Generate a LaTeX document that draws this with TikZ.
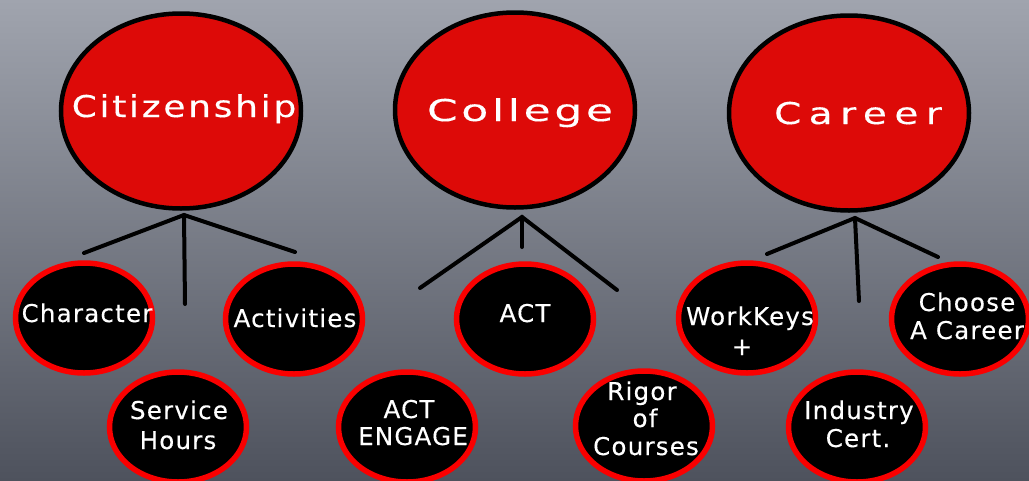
\documentclass[tikz,border=0pt]{standalone}
\usepackage{fontspec}
\setmainfont{DejaVu Sans}
\newfontfamily\citfont[LetterSpace=9,FakeStretch=1.2,FakeBold=0.3]{DejaVu Sans}
\newfontfamily\colfont[LetterSpace=12,FakeStretch=1.47,FakeBold=0.3]{DejaVu Sans}
\newfontfamily\carfont[LetterSpace=25,FakeStretch=1.3,FakeBold=0.3]{DejaVu Sans}
\newfontfamily\smfont[LetterSpace=5,FakeBold=0.3]{DejaVu Sans}
\usetikzlibrary{shapes.geometric}
\definecolor{bigred}{RGB}{221,10,8}
\definecolor{ringred}{RGB}{250,0,0}
\definecolor{bgtop}{RGB}{160,164,174}
\definecolor{bgbot}{RGB}{78,82,93}
\begin{document}
\begin{tikzpicture}[x=1pt,y=-1pt,
  bigcirc/.style={ellipse, draw=black, line width=4.5pt, fill=bigred, inner sep=0pt, minimum width=240pt, minimum height=195pt},
  smallcirc/.style={ellipse, draw=ringred, line width=5.5pt, fill=black, inner sep=0pt, minimum width=137pt, minimum height=110pt},
  branch/.style={draw=black, line width=4pt, line cap=round},
  bigtxt/.style={text=white, inner sep=0pt, anchor=base},
  smalltxt/.style={text=white, inner sep=0pt, anchor=base, font=\fontsize{24.5}{29}\selectfont\smfont}]
\useasboundingbox (0,0) rectangle (1029,480);
\fill[top color=bgtop, bottom color=bgbot] (0,0) rectangle (1029,480);

% big circles
\node[bigcirc] (cit) at (181,111) {};
\node[bigcirc] (col) at (515,110) {};
\node[bigcirc] (car) at (849,113) {};
\node[bigtxt, font=\fontsize{30}{36}\selectfont\citfont] (citT) at (184,117) {Citizenship};
\node[bigtxt, font=\fontsize{30}{36}\selectfont\colfont] (colT) at (520,121) {College};
\node[bigtxt, font=\fontsize{30}{36}\selectfont\carfont] (carT) at (858,124) {Career};

% branch coordinates
\coordinate (citA) at (184,215);
\coordinate (citL) at (84,253);
\coordinate (citM) at (185,304);
\coordinate (citR) at (295,252);
\coordinate (colA) at (522,217);
\coordinate (colL) at (420,288);
\coordinate (colM) at (522,247);
\coordinate (colR) at (617,290);
\coordinate (carA) at (855,218);
\coordinate (carL) at (767,254);
\coordinate (carM) at (859,301);
\coordinate (carR) at (938,257);
\draw[branch] (citL) -- (citA) -- (citR);
\draw[branch] (citA) -- (citM);
\draw[branch] (colL) -- (colA) -- (colR);
\draw[branch] (colA) -- (colM);
\draw[branch] (carL) -- (carA) -- (carR);
\draw[branch] (carA) -- (carM);

% small circles
\node[smallcirc] (chr) at (84,318) {};
\node[smallcirc] (actv) at (294,319) {};
\node[smallcirc] (svc) at (178,427) {};
\node[smallcirc] (actc) at (525,319) {};
\node[smallcirc] (eng) at (407,427) {};
\node[smallcirc] (rig) at (644,426) {};
\node[smallcirc] (wk) at (747,318) {};
\node[smallcirc] (cho) at (960,319) {};
\node[smallcirc] (ind) at (857,427) {};

% small texts
\node[smalltxt] (chrT) at (87,322) {Character};
\node[smalltxt] (actvT) at (295,327) {Activities};
\node[smalltxt] (svcT1) at (179,419) {Service};
\node[smalltxt] (svcT2) at (178,449) {Hours};
\node[smalltxt] (actcT) at (525,322) {ACT};
\node[smalltxt] (engT1) at (409,418) {ACT};
\node[smalltxt] (engT2) at (413,445) {ENGAGE};
\node[smalltxt] (rigT1) at (642,400) {Rigor};
\node[smalltxt] (rigT2) at (645,427) {of};
\node[smalltxt] (rigT3) at (646,455) {Courses};
\node[smalltxt] (wkT1) at (750,325) {WorkKeys};
\node[smalltxt] (wkT2) at (742,355) {+};
\node[smalltxt] (choT1) at (967,311) {Choose};
\node[smalltxt] (choT2) at (967,339) {A Career};
\node[smalltxt] (indT1) at (859,419) {Industry};
\node[smalltxt] (indT2) at (858,447) {Cert.};
\end{tikzpicture}
\end{document}
